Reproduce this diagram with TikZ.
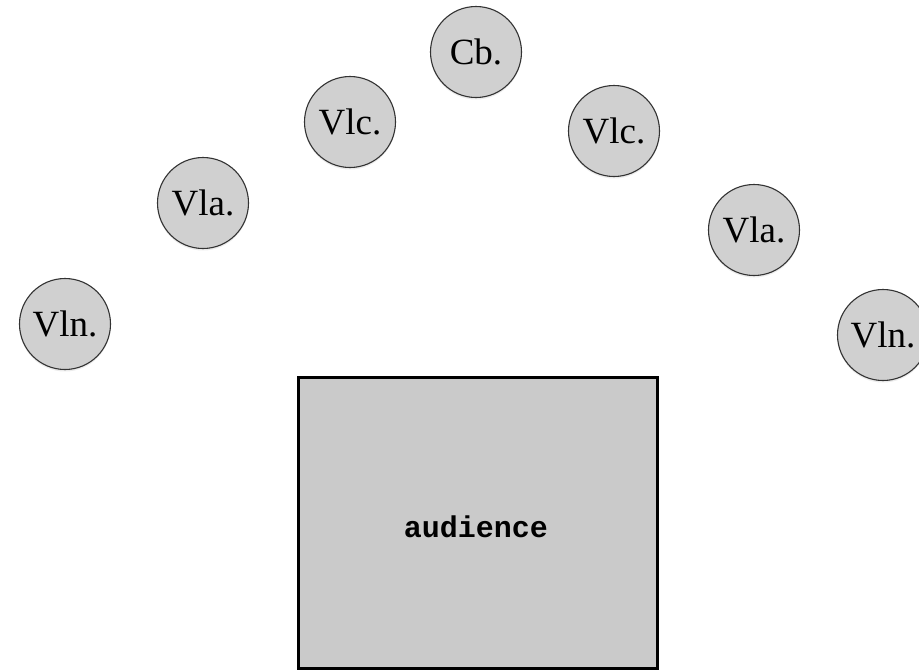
\documentclass[tikz,border=0pt]{standalone}
\usepackage{fontspec}
\setmainfont{Liberation Serif}
\newfontfamily\hallfont{Liberation Mono}
\usetikzlibrary{shadows}
\definecolor{plgray}{HTML}{D0D0D0}
\definecolor{hallgray}{HTML}{CACACA}
\begin{document}
\begin{tikzpicture}[x=1pt,y=-1pt,
  player/.style={circle, draw=black!80, line width=1.1pt, fill=plgray,
    minimum size=91pt, inner sep=0pt,
    drop shadow={opacity=0.15, shadow xshift=0pt, shadow yshift=-2pt},
    font=\fontsize{37}{42}\selectfont},
  hall/.style={draw=black, line width=3pt, fill=hallgray,
    minimum width=359pt, minimum height=291pt, inner sep=0pt},
  halllabel/.style={font=\hallfont\bfseries\fontsize{30}{36}\selectfont, anchor=base, inner sep=0pt}]
\useasboundingbox (0,0) rectangle (919,670);
\fill[white] (0,0) rectangle (919,670);
\node[player] (cb) at (476,52) {Cb.};
\node[player] (vlcl) at (350,122) {Vlc.};
\node[player] (vlcr) at (614,131) {Vlc.};
\node[player] (vlal) at (203,203) {Vla.};
\node[player] (vlar) at (754,230) {Vla.};
\node[player] (vlnl) at (65,324) {Vln.};
\node[player] (vlnr) at (883,335) {Vln.};
\node[hall] (aud) at (477.5,522.5) {};
\node[halllabel] (audlabel) at (476,537) {audience};
\end{tikzpicture}
\end{document}
